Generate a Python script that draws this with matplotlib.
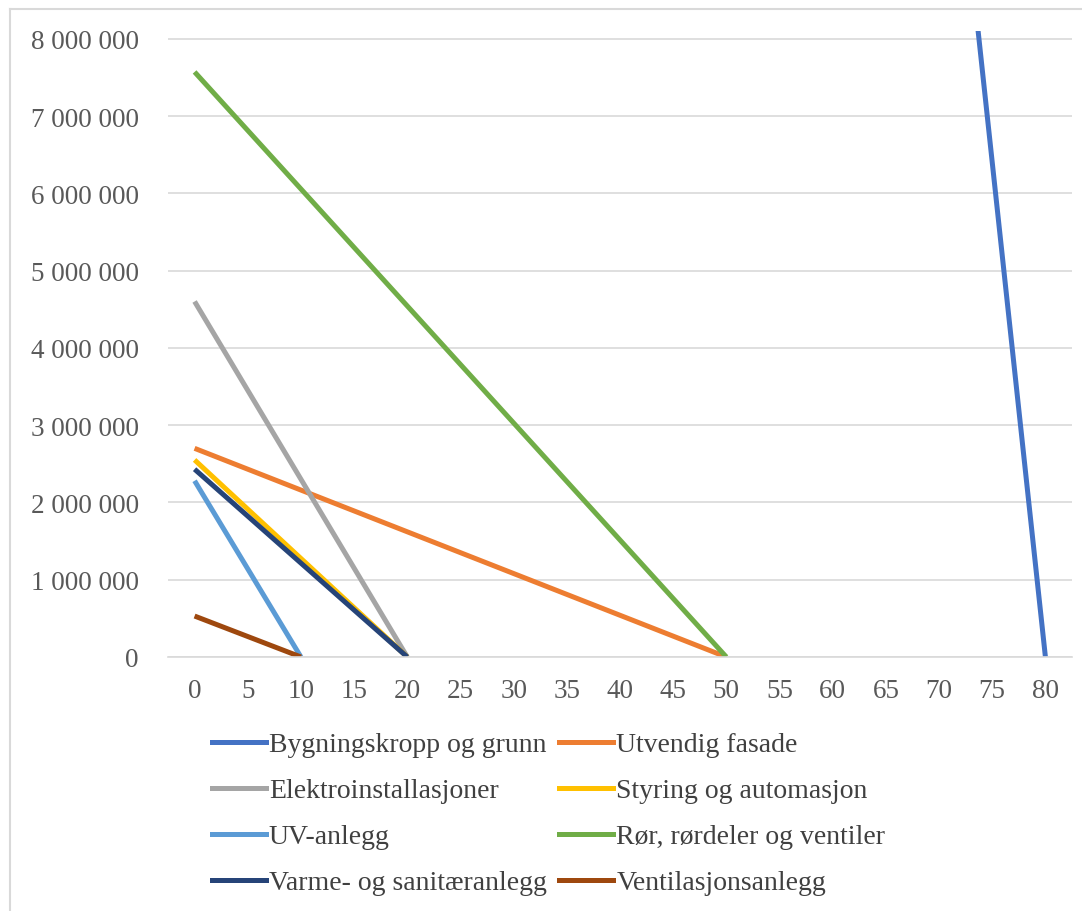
import matplotlib.pyplot as plt
from matplotlib.lines import Line2D
from matplotlib.ticker import FuncFormatter

plt.rcParams['font.family'] = ['Liberation Serif', 'DejaVu Serif']

# komponenter: startverdi (kr) og levetid (år), lineær avskrivning til 0
names = ['Bygningskropp og grunn', 'Utvendig fasade', 'Elektroinstallasjoner',
         'Styring og automasjon', 'UV-anlegg', 'Rør, rørdeler og ventiler',
         'Varme- og sanitæranlegg', 'Ventilasjonsanlegg']
start_values = [102400000, 2700000, 4600000, 2550000, 2280000, 7570000, 2430000, 530000]
lifetimes = [80, 50, 20, 20, 10, 50, 20, 10]
colors = ['#4472C4', '#ED7D31', '#A5A5A5', '#FFC000', '#5B9BD5', '#70AD47', '#264478', '#9E480E']
xticks = list(range(0, 81, 5))

fig = plt.figure(figsize=(10.82, 9.12), dpi=100)
ax = fig.add_axes([168 / 1082, 1 - 658 / 912, (1072 - 168) / 1082, (658 - 32) / 912])

for name, v, life, c in zip(names, start_values, lifetimes, colors):
    ax.plot([0, life], [v, 0], color=c, lw=3.6, label=name, solid_capstyle='butt')

ax.set_xlim(-2.5, 82.5)
ax.set_ylim(0, 8100000)
ax.set_xticks(xticks)
ax.set_yticks(range(0, 8000001, 1000000))
ax.yaxis.set_major_formatter(FuncFormatter(lambda v, p: f'{int(v):,}'.replace(',', ' ')))
ax.grid(axis='y', color='#D9D9D9', lw=1.2)
ax.set_axisbelow(True)
for s in ['top', 'right', 'left']:
    ax.spines[s].set_visible(False)
ax.spines['bottom'].set_color('#D9D9D9')
ax.spines['bottom'].set_linewidth(1.2)
ax.tick_params(length=0, labelsize=19.5, colors='#595959')
ax.tick_params(axis='x', pad=15)
ax.tick_params(axis='y', pad=21)

# legende i to kolonner, fylt rad for rad
order = [0, 2, 4, 6, 1, 3, 5, 7]
handles = [Line2D([], [], color=colors[i], lw=3.6) for i in order]
labels = [names[i] for i in order]
leg = fig.legend(handles, labels, ncol=2, loc='upper left',
                 bbox_to_anchor=(212 / 1082, 1 - 733 / 912), frameon=False,
                 borderpad=0, borderaxespad=0,
                 fontsize=20, handlelength=1.95, handletextpad=0.1,
                 columnspacing=0.45, labelspacing=0.74)
for t in leg.get_texts():
    t.set_color('#404040')

# ramme rundt diagrammet
fig.add_artist(Line2D([10 / 1082, 10 / 1082], [0, 1 - 10 / 912], color='#D9D9D9', lw=1.5))
fig.add_artist(Line2D([10 / 1082, 1], [1 - 10 / 912, 1 - 10 / 912], color='#D9D9D9', lw=1.5))

fig.savefig('out.png', dpi=100, facecolor='white')
